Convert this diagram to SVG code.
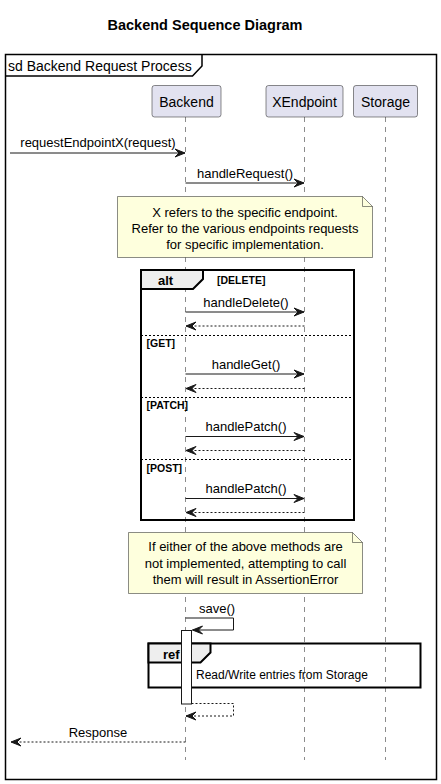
<svg xmlns="http://www.w3.org/2000/svg" width="441" height="784" viewBox="0 0 441 784">
<style>
text{font-family:"Liberation Sans",Arial,sans-serif;fill:#000}
.title{font-size:14.5px;font-weight:bold}
.msg{font-size:13px;text-anchor:middle}
.pt{font-size:14px;text-anchor:middle}
.note{font-size:13px;text-anchor:middle}
.guard{font-size:10.5px;font-weight:bold}
.kw{font-size:13px;font-weight:bold}
.part{fill:#E2E2F0;stroke:#181818;stroke-width:0.5}
.life{stroke:#181818;stroke-width:0.5;stroke-dasharray:5,5;fill:none}
.notebox{fill:#FEFFDD;stroke:#181818;stroke-width:0.5}
.call{stroke:#181818;stroke-width:1;fill:none;marker-end:url(#ah)}
.ret{stroke:#181818;stroke-width:1;stroke-dasharray:2,2;fill:none;marker-end:url(#ah)}
.frame{fill:none;stroke:#000;stroke-width:2}
.tab{fill:#EEEEEE;stroke:#000;stroke-width:2}
.sep{stroke:#000;stroke-width:1;stroke-dasharray:2,2}
</style>
<defs>
<marker id="ah" markerUnits="userSpaceOnUse" markerWidth="12" markerHeight="10" refX="10" refY="4" orient="auto" overflow="visible">
<path d="M0,0 L10,4 L0,8 L4,4 Z" fill="#181818" stroke="#181818" stroke-width="1"/>
</marker>
</defs>
<rect width="441" height="784" fill="#fff"/>
<text class="title" x="205" y="30" text-anchor="middle">Backend Sequence Diagram</text>

<g id="frame-sd">
<rect x="5.5" y="54.5" width="431" height="725" fill="none" stroke="#000" stroke-width="1.5"/>
<path d="M5.5,76 L192.5,76 L202,66 L202,54.5" fill="none" stroke="#000" stroke-width="1.5"/>
<text x="8" y="71" style="font-size:14px">sd Backend Request Process</text>
</g>

<g id="lifelines">
<line class="life" x1="185.5" y1="117" x2="185.5" y2="760"/>
<line class="life" x1="304.5" y1="117" x2="304.5" y2="760"/>
<line class="life" x1="385.5" y1="117" x2="385.5" y2="760"/>
</g>

<g id="Backend">
<rect class="part" x="152" y="85.5" width="69" height="31.5" rx="2.5"/>
<text class="pt" x="186.5" y="106.5">Backend</text>
</g>
<g id="XEndpoint">
<rect class="part" x="266" y="85.5" width="77" height="31.5" rx="2.5"/>
<text class="pt" x="304.5" y="106.5">XEndpoint</text>
</g>
<g id="Storage">
<rect class="part" x="353.5" y="85.5" width="64" height="31.5" rx="2.5"/>
<text class="pt" x="385.5" y="106.5">Storage</text>
</g>

<g id="note1">
<path class="notebox" d="M117.5,196.5 L362.5,196.5 L372.5,206.5 L372.5,257.5 L117.5,257.5 Z"/>
<path d="M362.5,196.5 L362.5,206.5 L372.5,206.5" fill="none" stroke="#181818" stroke-width="0.5"/>
<text class="note" x="245" y="216.5">X refers to the specific endpoint.</text>
<text class="note" x="245" y="232.5">Refer to the various endpoints requests</text>
<text class="note" x="245" y="249">for specific implementation.</text>
</g>

<g id="alt">
<rect class="frame" x="141" y="270" width="213" height="250"/>
<path class="tab" d="M141,270 L203,270 L203,279 L193,289 L141,289 Z"/>
<text class="kw" x="158" y="284.5">alt</text>
<text class="guard" x="217" y="284">[DELETE]</text>
<line class="sep" x1="141" y1="335.5" x2="354" y2="335.5"/>
<text class="guard" x="146.5" y="347">[GET]</text>
<line class="sep" x1="141" y1="397.5" x2="354" y2="397.5"/>
<text class="guard" x="146.5" y="409">[PATCH]</text>
<line class="sep" x1="141" y1="459.5" x2="354" y2="459.5"/>
<text class="guard" x="146.5" y="471.5">[POST]</text>
</g>

<g id="note2">
<path class="notebox" d="M128.5,532.5 L352.5,532.5 L362.5,542.5 L362.5,593.5 L128.5,593.5 Z"/>
<path d="M352.5,532.5 L352.5,542.5 L362.5,542.5" fill="none" stroke="#181818" stroke-width="0.5"/>
<text class="note" x="245.5" y="551">If either of the above methods are</text>
<text class="note" x="245.5" y="567.5">not implemented, attempting to call</text>
<text class="note" x="245.5" y="584">them will result in AssertionError</text>
</g>

<g id="ref">
<rect class="frame" x="148.5" y="643.5" width="272" height="44"/>
<path class="tab" d="M148.5,643.5 L210.5,643.5 L210.5,652.5 L200.5,662.5 L148.5,662.5 Z"/>
<text class="kw" x="163" y="659">ref</text>
<text x="196" y="678.5" style="font-size:12px">Read/Write entries from Storage</text>
</g>

<g id="activation">
<rect x="181.5" y="630.5" width="10" height="73.5" fill="#fff" stroke="#181818" stroke-width="1"/>
</g>

<g id="connectors">
<line class="call" x1="10" y1="153" x2="185" y2="153"/>
<text class="msg" x="98" y="147">requestEndpointX(request)</text>
<line class="call" x1="185.5" y1="183" x2="304" y2="183"/>
<text class="msg" x="245" y="178">handleRequest()</text>

<line class="call" x1="185.5" y1="312" x2="304" y2="312"/>
<text class="msg" x="246" y="307">handleDelete()</text>
<line class="ret" x1="304.5" y1="326" x2="186" y2="326"/>

<line class="call" x1="185.5" y1="374" x2="304" y2="374"/>
<text class="msg" x="246" y="369">handleGet()</text>
<line class="ret" x1="304.5" y1="388.5" x2="186" y2="388.5"/>

<line class="call" x1="185.5" y1="436.5" x2="304" y2="436.5"/>
<text class="msg" x="246" y="431">handlePatch()</text>
<line class="ret" x1="304.5" y1="450.5" x2="186" y2="450.5"/>

<line class="call" x1="185.5" y1="498.5" x2="304" y2="498.5"/>
<text class="msg" x="246" y="493">handlePatch()</text>
<line class="ret" x1="304.5" y1="512.5" x2="186" y2="512.5"/>

<path class="call" d="M185.5,618 L233.5,618 L233.5,630 L192.5,630"/>
<text x="199" y="613" style="font-size:13px">save()</text>
<path class="ret" d="M191.5,703.5 L233.5,703.5 L233.5,716 L186,716"/>

<line class="ret" x1="185.5" y1="742" x2="11" y2="742"/>
<text class="msg" x="98" y="736.5">Response</text>
</g>
</svg>
